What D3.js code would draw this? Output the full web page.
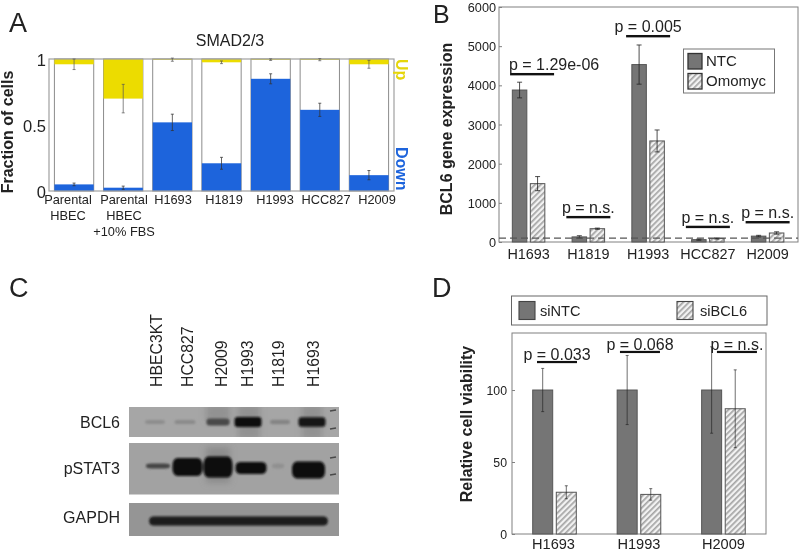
<!DOCTYPE html>
<html><head><meta charset="utf-8">
<script src="https://cdn.jsdelivr.net/npm/d3@7"></script>
<style>
html,body{margin:0;padding:0;background:#fff}
svg{display:block;filter:blur(0.4px)}
text{font-family:"Liberation Sans",Arial,sans-serif;fill:#222}
.domain{display:none}
</style></head><body>
<script>
// Panel A
const catA=["Parental|HBEC","Parental|HBEC|+10% FBS","H1693","H1819","H1993","HCC827","H2009"];
const downA=[0.05,0.025,0.52,0.21,0.85,0.615,0.12];
const downErrA=[0.01,0.012,0.062,0.045,0.038,0.05,0.035];
const upA=[0.04,0.30,0.005,0.025,0.005,0.005,0.04];
const upErrA=[0.04,0.108,0.012,0.01,0.006,0.008,0.03];
const ticksA=[0,0.5,1];
// Panel B
const catB=["H1693","H1819","H1993","HCC827","H2009"];
const ntcB=[3880,130,4530,60,150];
const ntcErrB=[200,30,500,15,20];
const omoB=[1490,340,2580,90,230];
const omoErrB=[180,15,280,15,30];
const sigLevelB=[4290,640,5260,390,510];
const sigTextB=["p = 1.29e-06","p = n.s.","p = 0.005","p = n.s.","p = n.s."];
const ticksB=[0,1000,2000,3000,4000,5000,6000];
const thresholdB=100;
// Panel C
const lanesC=["HBEC3KT","HCC827","H2009","H1993","H1819","H1693"];
const rowsC=["BCL6","pSTAT3","GAPDH"];
const bcl6Band=[0.14,0.16,0.6,0.97,0.2,0.95];
const pstat3Band=[0.62,1,1,0.98,0.12,1];
// Panel D
const catD=["H1693","H1993","H2009"];
const ntcD=[100,100,100];
const ntcErrD=[15,24,30];
const siD=[29,27.5,87];
const siErrD=[4.5,4,27];
const sigLevelD=[119.5,126.5,126.5];
const sigTextD=["p = 0.033","p = 0.068","p = n.s."];
const ticksD=[0,50,100];

const BLUE="#1d64dc",YEL="#ecdc00",DARK="#757575",FR="#808080";
const svg=d3.select("body").append("svg").attr("width",800).attr("height",551);
const defs=svg.append("defs");
const hatch=defs.append("pattern").attr("id","hatch").attr("width",4).attr("height",4)
  .attr("patternUnits","userSpaceOnUse").attr("patternTransform","rotate(-45)");
hatch.append("rect").attr("width",4).attr("height",4).attr("fill","#f2f2f2");
hatch.append("rect").attr("width",4).attr("height",1.7).attr("fill","#a5a5a5");
[["blurBand",3],["blurSmall",1.1]].forEach(([id,s])=>defs.append("filter").attr("id",id)
  .attr("x","-40%").attr("y","-100%").attr("width","180%").attr("height","300%")
  .append("feGaussianBlur").attr("stdDeviation",s));

function label(s,x,y,size,opt={}){
  const t=svg.append("text").attr("x",x).attr("y",y).attr("font-size",size).text(s);
  if(opt.anchor)t.attr("text-anchor",opt.anchor);
  if(opt.bold)t.attr("font-weight","bold");
  if(opt.fill)t.style("fill",opt.fill);
  if(opt.rot)t.attr("transform",`rotate(${opt.rot} ${x} ${y})`);
  return t;
}
function styleAxis(g,size,stroke=FR){
  g.selectAll("line").attr("stroke",stroke);
  g.selectAll("text").attr("font-size",size);
}
function errBars(g,xs,vals,errs,cap,col="#333",op=.75){
  vals.forEach((v,i)=>{
    const x=xs(i);
    g.append("path").attr("fill","none").attr("stroke",col).attr("stroke-opacity",op).attr("stroke-width",1)
     .attr("d",`M${x-cap},${errs[i][0]}H${x+cap}M${x},${errs[i][0]}V${errs[i][1]}M${x-cap},${errs[i][1]}H${x+cap}`);
  });
}

// ----- A
label("A",9,32,27);
label("SMAD2/3",230,46,16,{anchor:"middle"});
const xA=d3.scaleBand().domain(d3.range(catA.length)).range([49,394]).paddingInner(0.2).paddingOuter(0.11);
const yA=d3.scaleLinear().domain([0,1]).range([191,59]);
const gA=svg.append("g");
catA.forEach((c,i)=>{
  const x=xA(i),w=xA.bandwidth();
  gA.append("rect").attr("x",x).attr("y",yA(1)).attr("width",w).attr("height",yA(0)-yA(1)).attr("fill","#fff").attr("stroke","#8c8c8c");
  gA.append("rect").attr("x",x).attr("y",yA(downA[i])).attr("width",w).attr("height",yA(0)-yA(downA[i])).attr("fill",BLUE);
  gA.append("rect").attr("x",x).attr("y",yA(1)).attr("width",w).attr("height",yA(1-upA[i])-yA(1)).attr("fill",YEL);
});
gA.append("rect").attr("x",49).attr("y",yA(1)).attr("width",345).attr("height",yA(0)-yA(1)).attr("fill","none").attr("stroke","#a0a0a0").attr("stroke-width",1.2);
const cA=i=>xA(i)+xA.bandwidth()/2;
errBars(gA,cA,downA,downA.map((v,i)=>[yA(v+downErrA[i]),yA(v-downErrA[i])]),1.5);
errBars(gA,cA,upA,upA.map((v,i)=>[yA(1-v+upErrA[i]),yA(1-v-upErrA[i])]),1.5,"#555",.7);
const axA=svg.append("g").attr("transform","translate(49,0)").call(d3.axisLeft(yA).tickValues(ticksA).tickSizeOuter(0).tickSize(0).tickPadding(3).tickFormat(d3.format("")));
styleAxis(axA,16.5);axA.selectAll("text").attr("dy","0.4em");
label("Fraction of cells",13,132,16,{anchor:"middle",bold:true,rot:-90});
label("Up",396,59,16,{bold:true,fill:"#e6d60a",rot:90});
label("Down",396,147,16,{bold:true,fill:BLUE,rot:90});
const labelX=d3.scaleOrdinal().domain(catA).range([68,124,173,224,275,326,377]);
catA.forEach(c=>c.split("|").forEach((s,j)=>label(s,labelX(c),204+j*16,12.8,{anchor:"middle"})));

// ----- B
label("B",433,23,25);
const xB=d3.scaleBand().domain(catB).range([498.7,797.5]).paddingInner(0).paddingOuter(0);
const yB=d3.scaleLinear().domain([0,6000]).range([242,7]);
const gB=svg.append("g");
gB.append("rect").attr("x",499).attr("y",7).attr("width",299).attr("height",235).attr("fill","#fff").attr("stroke",FR);
const barW=14.5,gap=1.75;
const cB=i=>xB(catB[i])+xB.bandwidth()/2;
function bars(g,cx,vals,y,off,w,fill){
  g.selectAll(null).data(vals).join("rect").attr("x",(d,i)=>cx(i)+off).attr("y",d=>y(d)).attr("width",w)
   .attr("height",d=>y(0)-y(d)).attr("fill",fill).attr("stroke","#555").attr("stroke-width",1);
}
bars(gB,cB,ntcB,yB,-barW-gap,barW,DARK);
bars(gB,cB,omoB,yB,gap,barW,"url(#hatch)");
errBars(gB,i=>cB(i)-gap-barW/2,ntcB,ntcB.map((v,i)=>[yB(v+ntcErrB[i]),yB(v-ntcErrB[i])]),2.5,"#222",.8);
errBars(gB,i=>cB(i)+gap+barW/2,omoB,omoB.map((v,i)=>[yB(v+omoErrB[i]),yB(v-omoErrB[i])]),2.5,"#222",.8);
gB.append("line").attr("x1",499).attr("x2",798).attr("y1",yB(thresholdB)).attr("y2",yB(thresholdB))
  .attr("stroke","#555").attr("stroke-width",1.1).attr("stroke-dasharray","7 4");
const axB=svg.append("g").attr("transform","translate(499,0)").call(d3.axisLeft(yB).tickValues(ticksB).tickSize(-3).tickPadding(3).tickFormat(d3.format("d")));
styleAxis(axB,12.7);axB.selectAll("text").attr("dy","0.36em");
catB.forEach((c,i)=>label(c,cB(i),259,14.4,{anchor:"middle"}));
label("BCL6 gene expression",452,129,16,{anchor:"middle",bold:true,rot:-90});
sigTextB.forEach((s,i)=>{
  const c=cB(i)+(i===0?3.5:0);
  svg.append("rect").attr("x",c-22).attr("y",yB(sigLevelB[i])-1).attr("width",44).attr("height",2.4).attr("fill","#111");
  label(s,c+(i===0?22:0),yB(sigLevelB[i])-4,16,{anchor:"middle"});
});
const legB=svg.append("g");
legB.append("rect").attr("x",683.5).attr("y",49).attr("width",91).attr("height",44).attr("fill","#fff").attr("stroke","#777");
[["NTC",DARK],["Omomyc","url(#hatch)"]].forEach(([t,f],i)=>{
  legB.append("rect").attr("x",688).attr("y",53.5+i*20).attr("width",14).attr("height",15.5).attr("fill",f).attr("stroke","#333").attr("stroke-width",1.3);
  label(t,706,66+i*20,15);
});

// ----- C
label("C",9,297,27);
const laneX=d3.scaleOrdinal().domain(lanesC).range([155,185,218,248,280,312]);
const labelC=d3.scaleOrdinal().domain(lanesC).range([161.5,193,227,253,284,319]);
lanesC.forEach(l=>label(l,labelC(l),387,15.8,{rot:-90}));
const blots=[{n:"BCL6",y:407,h:30,fill:"#a6a6a6",b:428},{n:"pSTAT3",y:443,h:51.5,fill:"#a2a2a2",b:474},{n:"GAPDH",y:503,h:33,fill:"#959595",b:523}];
const gC=svg.append("g");
blots.forEach((b,i)=>{
  defs.append("clipPath").attr("id","blot"+i).append("rect").attr("x",129).attr("y",b.y).attr("width",210).attr("height",b.h);
  gC.append("rect").attr("x",129).attr("y",b.y).attr("width",210).attr("height",b.h).attr("fill",b.fill);
  label(b.n,120,b.b,16,{anchor:"end"});
});
const inkC=d3.scaleLinear().domain([0,1]).range(["#a2a2a2","#0c0c0c"]);
// soft smudges around the strong lanes, clipped to each blot
const smudge0=gC.append("g").attr("clip-path","url(#blot0)").append("g").attr("filter","url(#blurBand)").attr("fill","#7d7d7d").attr("fill-opacity",.5);
smudge0.append("rect").attr("x",206).attr("y",405).attr("width",24).attr("height",16);
smudge0.append("rect").attr("x",238).attr("y",405).attr("width",22).attr("height",34);
smudge0.append("rect").attr("x",302).attr("y",405).attr("width",20).attr("height",34);
const smudge1=gC.append("g").attr("clip-path","url(#blot1)").append("g").attr("filter","url(#blurBand)").attr("fill","#7d7d7d").attr("fill-opacity",.6);
smudge1.append("rect").attr("x",206).attr("y",447).attr("width",24).attr("height",36);
// ladder marks at the right of the blots
gC.append("g").attr("stroke","#4a4a4a").attr("stroke-width",1.6).selectAll("line")
  .data([[411],[429],[458],[475]]).join("line")
  .attr("x1",330).attr("x2",336).attr("y1",d=>d[0]).attr("y2",d=>d[0]-1);
const bandW=d3.scaleOrdinal().domain(lanesC).range([20,21,23,27,20,27]);
const gB1=gC.append("g").attr("filter","url(#blurSmall)");
lanesC.forEach((l,i)=>gB1.append("rect").attr("x",laneX(l)-bandW(l)/2).attr("y",422-(1.5+bcl6Band[i]*3.5)).attr("width",bandW(l)).attr("height",2*(1.5+bcl6Band[i]*3.5)).attr("rx",3).attr("fill",inkC(bcl6Band[i])));
const pX=d3.scaleOrdinal().domain(lanesC).range([158,187.5,218,251,278,308.5]);
const pW=d3.scaleOrdinal().domain(lanesC).range([24,30,29,31,12,33]);
const pH=d3.scaleOrdinal().domain(lanesC).range([5,18,21,12,5,17]);
const pY=d3.scaleOrdinal().domain(lanesC).range([466,467,467,468,466,470]);
const gB2=gC.append("g").attr("filter","url(#blurSmall)");
lanesC.forEach((l,i)=>gB2.append("rect").attr("x",pX(l)-pW(l)/2).attr("y",pY(l)-pH(l)/2).attr("width",pW(l)).attr("height",pH(l)).attr("rx",5).attr("ry",pH(l)/2.6).attr("fill",inkC(pstat3Band[i])));
gC.append("rect").attr("x",149).attr("y",516.5).attr("width",179).attr("height",9).attr("rx",4.5).attr("fill","#1c1c1c").attr("filter","url(#blurSmall)");

// ----- D
label("D",432,297,27);
const xD=d3.scaleBand().domain(catD).range([512,766]).paddingOuter(0);
const yD=d3.scaleLinear().domain([0,139.6]).range([534,333]);
const gD=svg.append("g");
gD.append("rect").attr("x",512).attr("y",333).attr("width",254).attr("height",201).attr("fill","#fff").attr("stroke",FR);
const cD=i=>554.5+(xD.step()-0.2)*i;
const wD=20,gD2=1.8;
bars(gD,cD,ntcD,yD,-wD-gD2,wD,DARK);
bars(gD,cD,siD,yD,gD2,wD,"url(#hatch)");
errBars(gD,i=>cD(i)-gD2-wD/2,ntcD,ntcD.map((v,i)=>[yD(v+ntcErrD[i]),yD(v-ntcErrD[i])]),1.5,"#222",.65);
errBars(gD,i=>cD(i)+gD2+wD/2,siD,siD.map((v,i)=>[yD(v+siErrD[i]),yD(v-siErrD[i])]),1.5,"#222",.65);
const axD=svg.append("g").attr("transform","translate(512,0)").call(d3.axisLeft(yD).tickValues(ticksD).tickSize(-3).tickPadding(5).tickFormat(d3.format("d")));
styleAxis(axD,12.3);axD.selectAll("text").attr("dy","0.36em");
catD.forEach((c,i)=>label(c,cD(i)-(i===0?1:0),549,14.6,{anchor:"middle"}));
label("Relative cell viability",472,424,16,{anchor:"middle",bold:true,rot:-90});
sigTextD.forEach((s,i)=>{
  const c=cD(i)+(i===2?13.5:i===0?2.5:1);
  svg.append("rect").attr("x",c-20).attr("y",yD(sigLevelD[i])-1).attr("width",40).attr("height",2.2).attr("fill","#111");
  label(s,c,yD(sigLevelD[i])-2,16,{anchor:"middle"});
});
const legD=svg.append("g");
legD.append("rect").attr("x",511.5).attr("y",296).attr("width",255.5).attr("height",29).attr("fill","#fff").attr("stroke","#666");
[["siNTC",DARK,519,540],["siBCL6","url(#hatch)",677,700]].forEach(([t,f,sx,tx])=>{
  legD.append("rect").attr("x",sx).attr("y",301.5).attr("width",16).attr("height",18).attr("fill",f).attr("stroke","#444").attr("stroke-width",1.1);
  label(t,tx,316,14.6);
});
</script></body></html>
